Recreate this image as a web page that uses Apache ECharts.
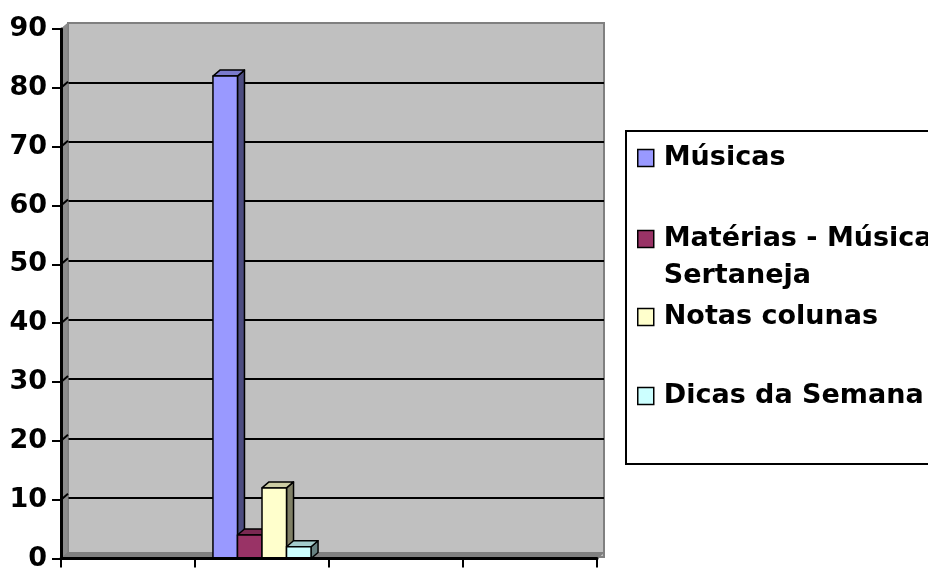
<!DOCTYPE html>
<html>
<head>
<meta charset="utf-8">
<script src="https://cdn.jsdelivr.net/npm/echarts@6/dist/echarts.min.js"></script>
<style>html,body{margin:0;padding:0;background:#fff}#c{width:928px;height:572px}</style>
</head>
<body>
<div id="c"></div>
<script>
// ---- data ----
const categories = ['1', '2', '3', '4'];
const seriesNames = ['Músicas', 'Matérias - Música Sertaneja', 'Notas colunas', 'Dicas da Semana'];
const musicas = [null, 82, null, null];
const materias = [null, 4, null, null];
const notas = [null, 12, null, null];
const dicas = [null, 2, null, null];
const yTicks = [0, 10, 20, 30, 40, 50, 60, 70, 80, 90];

// ---- styles ----
const FONT = 'DejaVu Sans';
const DX = 7, DY = -6;         // depth offset of the walls
const BDX = 7, BDY = -6;       // depth of the bars
const faces = [
  { front: '#9999FF', top: '#7A7ACC', side: '#4D4D80' },
  { front: '#993366', top: '#7A2952', side: '#4D1A33' },
  { front: '#FFFFCC', top: '#CCCCA3', side: '#808066' },
  { front: '#CCFFFF', top: '#A3CCCC', side: '#668080' }
];
const allValues = [musicas, materias, notas, dicas];

const chart = echarts.init(document.getElementById('c'), null, { renderer: 'canvas' });

function barRender(s) {
  return function (params, api) {
    const v = api.value(1);
    if (v == null || isNaN(v)) return;
    const ci = api.value(0);
    const base = api.coord([ci, 0]);
    const top = api.coord([ci, v]);
    const catW = api.size([1, 0])[0];
    const bw = catW * 0.183;
    const x0 = base[0] - 2 * bw + s * bw;
    const x1 = x0 + bw;
    const ty = top[1], by = base[1];
    const f = faces[s];
    const ls = { stroke: '#000', lineWidth: 1.5, lineJoin: 'round' };
    return {
      type: 'group',
      children: [
        { type: 'polygon', shape: { points: [[x1, ty], [x1 + BDX, ty + BDY], [x1 + BDX, by + BDY], [x1, by]] },
          style: Object.assign({ fill: f.side }, ls) },
        { type: 'polygon', shape: { points: [[x0, ty], [x0 + BDX, ty + BDY], [x1 + BDX, ty + BDY], [x1, ty]] },
          style: Object.assign({ fill: f.top }, ls) },
        { type: 'rect', shape: { x: x0, y: ty, width: bw, height: by - ty },
          style: Object.assign({ fill: f.front }, ls) }
      ]
    };
  };
}

function wallsRender(params, api) {
  const catW = api.size([1, 0])[0];
  const left = api.coord([0, 0])[0] - catW / 2;
  const right = api.coord([categories.length - 1, 0])[0] + catW / 2;
  const y0 = api.coord([0, 0])[1];
  const yTop = api.coord([0, yTicks[yTicks.length - 1]])[1];
  const children = [
    { type: 'polygon', shape: { points: [[left, yTop], [left + DX, yTop + DY], [left + DX, y0 + DY], [left, y0]] },
      style: { fill: '#8C8C8C', stroke: '#808080', lineWidth: 1 } },
    { type: 'polygon', shape: { points: [[left, y0], [left + DX, y0 + DY], [right + DX, y0 + DY], [right, y0]] },
      style: { fill: '#808080', stroke: '#808080', lineWidth: 1 } }
  ];
  for (let i = 1; i < yTicks.length - 1; i++) {
    const y = api.coord([0, yTicks[i]])[1];
    children.push({ type: 'line', shape: { x1: left, y1: y, x2: left + DX, y2: y + DY },
      style: { stroke: '#000', lineWidth: 2 } });
  }
  return { type: 'group', children: children };
}

const legendCenters = [158, 239, 317, 396];
const legends = seriesNames.map(function (name, i) {
  const isTwo = i === 1;
  const lh = isTwo ? 37 : 30;
  const boxH = isTwo ? 3 * lh : lh;
  return {
    data: [name],
    orient: 'vertical',
    left: 637,
    top: legendCenters[i] - boxH / 2,
    padding: 0,
    itemWidth: 16,
    itemHeight: 17,
    selectedMode: false,
    icon: 'rect',
    itemStyle: { borderColor: '#000', borderWidth: 1.5 },
    // a blank first line keeps the first text line level with the swatch
    formatter: isTwo ? function () { return ' \nMatérias - Música\nSertaneja'; } : undefined,
    textStyle: {
      fontFamily: FONT, fontWeight: 'bold', fontSize: 27, color: '#000',
      lineHeight: lh,
      padding: [0, 0, 0, 5]
    },
    z: 10
  };
});

const series = allValues.map(function (vals, s) {
  return {
    type: 'custom',
    name: seriesNames[s],
    xAxisIndex: 0, yAxisIndex: 0,
    itemStyle: { color: faces[s].front },
    renderItem: barRender(s),
    data: vals.map(function (v, i) { return [i, v]; }),
    z: 5
  };
});
series.unshift({
  type: 'custom',
  name: 'walls',
  silent: true,
  xAxisIndex: 0, yAxisIndex: 0,
  renderItem: wallsRender,
  data: [[0, 0]],
  z: 1
});

chart.setOption({
  animation: false,
  backgroundColor: '#fff',
  graphic: [{
    type: 'rect', left: 625, top: 130, z: 0,
    shape: { width: 400, height: 333 },
    style: { fill: '#fff', stroke: '#000', lineWidth: 2 }
  }],
  legend: legends,
  grid: [
    { left: 61, right: 331, top: 29, bottom: 9 },
    { left: 61 + DX, right: 331 - DX, top: 29 + DY, bottom: 9 - DY, show: true,
      backgroundColor: '#C0C0C0', borderColor: '#808080', borderWidth: 2, z: 0 }
  ],
  xAxis: [
    { type: 'category', gridIndex: 0, data: categories, boundaryGap: true,
      axisLine: { lineStyle: { color: '#000', width: 3 } },
      axisTick: { show: true, interval: 0, length: 9, lineStyle: { color: '#000', width: 2 } },
      axisLabel: { show: false }, splitLine: { show: false }, z: 6 },
    { type: 'category', gridIndex: 1, data: categories, show: false }
  ],
  yAxis: [
    { type: 'value', gridIndex: 0, min: 0, max: 90, interval: 10,
      axisLine: { show: true, lineStyle: { color: '#000', width: 3 } },
      axisTick: { show: true, length: 9, lineStyle: { color: '#000', width: 2 } },
      axisLabel: { margin: 14, fontFamily: FONT, fontWeight: 'bold', fontSize: 27, color: '#000',
        formatter: function (v) { return yTicks.indexOf(v) >= 0 ? String(v) : ''; } },
      splitLine: { show: false }, z: 6 },
    { type: 'value', gridIndex: 1, min: 0, max: 90, interval: 10,
      axisLine: { show: false }, axisTick: { show: false }, axisLabel: { show: false },
      splitLine: { show: true, showMinLine: false, showMaxLine: false, lineStyle: { color: '#000', width: 2 } } }
  ],
  series: series
});
</script>
</body>
</html>
